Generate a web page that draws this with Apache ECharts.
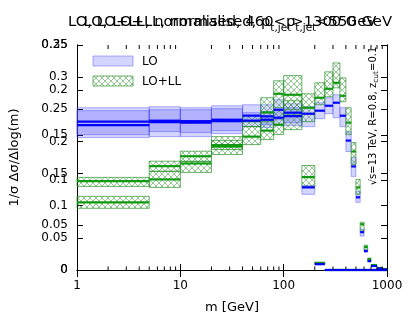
<!DOCTYPE html>
<html>
<head>
<meta charset="utf-8">
<script src="https://cdn.jsdelivr.net/npm/echarts@6/dist/echarts.min.js"></script>
<style>html,body{margin:0;padding:0;background:#fff}#c{width:411px;height:319px}</style>
</head>
<body>
<div id="c"></div>
<script>
// ---- data ----
const binEdges = [1,5,10,20,40,60,80,100,150,200,250,300,350,400,450,500,550,600,650,700,800,900,1000];
const xTickLabels = ['1','10','100','1000'];
const minorTickValues = [2,3,4,5,6,7,8,9,20,30,40,50,60,70,80,90,200,300,400,500,600,700,800,900];
const titleLow = 'LO, LO+LL, normalised, 460<p{s|t,jet}<550 GeV';
const titleHigh = 'LO, LO+LL, normalised, p{s|t,jet}>1300 GeV';
// chart drawn on the 0-0.35 scale
const hiLL    = [0.1053,0.1409,0.1657,0.1920,0.2075,0.2168,0.2261,0.2400,0.2524,0.2679,0.2819,0.2912,0.2710,0.2292,0.1843,0.1285,0.0712,0.0356,0.0170,0.0077,0.0031,0.0015];
const hiLLup  = [0.1146,0.1533,0.1688,0.2013,0.2230,0.2308,0.2493,0.2633,0.2741,0.2912,0.3082,0.3221,0.2989,0.2524,0.1982,0.1409,0.0743,0.0387,0.0186,0.0085,0.0035,0.0018];
const hiLLdn  = [0.0960,0.1285,0.1518,0.1796,0.1951,0.2029,0.2106,0.2184,0.2308,0.2571,0.2695,0.2834,0.2617,0.2106,0.1642,0.1177,0.0604,0.0310,0.0139,0.0070,0.0027,0.0012];
const hiLO    = [0.2253,0.2300,0.2292,0.2315,0.2323,0.2338,0.2369,0.2393,0.2431,0.2478,0.2555,0.2602,0.2400,0.2013,0.1611,0.1131,0.0588,0.0294,0.0139,0.0062,0.0023,0.0008];
const hiLOup  = [0.2478,0.2493,0.2493,0.2509,0.2447,0.2462,0.2493,0.2524,0.2540,0.2602,0.2679,0.2726,0.2524,0.2153,0.1750,0.1223,0.0635,0.0325,0.0155,0.0070,0.0027,0.0010];
const hiLOdn  = [0.2060,0.2075,0.2075,0.2122,0.2230,0.2215,0.2246,0.2246,0.2230,0.2354,0.2431,0.2369,0.2230,0.1843,0.1456,0.1053,0.0527,0.0279,0.0124,0.0054,0.0020,0.0006];
// chart drawn on the 0-0.25 scale
const loLL    = [0.0988,0.1154,0.1264,0.1388,0.1654,0.1751,0.1958,0.1947,0.1032,0.0077,0,0,0,0,0,0,0,0,0,0,0,0];
const loLLup  = [0.1029,0.1209,0.1320,0.1482,0.1715,0.1914,0.2102,0.2160,0.1161,0.0088,0,0,0,0,0,0,0,0,0,0,0,0];
const loLLdn  = [0.0929,0.1098,0.1209,0.1338,0.1593,0.1659,0.1803,0.1781,0.0929,0.0066,0,0,0,0,0,0,0,0,0,0,0,0];
const loLO    = [0.1648,0.1659,0.1654,0.1670,0.1715,0.1707,0.1781,0.1748,0.0918,0.0066,0,0,0,0,0,0,0,0,0,0,0,0];
const loLOup  = [0.1803,0.1814,0.1803,0.1825,0.1836,0.1836,0.1892,0.1847,0.0940,0.0077,0,0,0,0,0,0,0,0,0,0,0,0];
const loLOdn  = [0.1504,0.1538,0.1527,0.1549,0.1648,0.1615,0.1670,0.1637,0.0841,0.0055,0,0,0,0,0,0,0,0,0,0,0,0];

// ---- styles ----
const FONT = 'DejaVu Sans';
const hatch = document.createElement('canvas');
hatch.width = 6; hatch.height = 6;
(function(){
  const g = hatch.getContext('2d');
  g.strokeStyle = 'rgba(40,150,40,0.5)';
  g.lineWidth = 1;
  g.beginPath();
  g.moveTo(0,0); g.lineTo(6,6);
  g.moveTo(6,0); g.lineTo(0,6);
  g.moveTo(-1,5); g.lineTo(1,7);
  g.moveTo(5,-1); g.lineTo(7,1);
  g.stroke();
})();
const hatchFill = {image: hatch, repeat: 'repeat'};
const blueBandStyle = {fill: 'rgba(60,60,255,0.22)', stroke: 'rgba(80,80,255,0.45)', lineWidth: 1};
const greenBandStyle = {fill: hatchFill, stroke: 'rgba(30,140,30,0.65)', lineWidth: 1};

function bands(c, up, dn){
  const out = [];
  for (let i = 0; i < c.length; i++) {
    if (up[i] > dn[i]) out.push([binEdges[i], binEdges[i+1], dn[i], up[i]]);
  }
  return out;
}
function centres(c){
  return c.map((v,i)=>[binEdges[i], binEdges[i+1], v]);
}
function bandRender(style){
  return function(params, api){
    const p0 = api.coord([api.value(0), api.value(3)]);
    const p1 = api.coord([api.value(1), api.value(2)]);
    return {type:'rect', shape:{x:p0[0], y:p0[1], width:p1[0]-p0[0], height:p1[1]-p0[1]}, style: style};
  };
}
function lineRender(color){
  return function(params, api){
    const p0 = api.coord([api.value(0), api.value(2)]);
    const p1 = api.coord([api.value(1), api.value(2)]);
    return {type:'line', shape:{x1:p0[0], y1:p0[1], x2:p1[0], y2:p1[1]}, style:{stroke: color, lineWidth: 2.2}};
  };
}
function bandSeries(data, yi, style, z){
  return {type:'custom', xAxisIndex:0, yAxisIndex:yi, data:data, renderItem: bandRender(style),
          encode:{x:[0,1], y:[2,3]}, z:z, silent:true, clip:false};
}
function lineSeries(data, yi, color, z){
  return {type:'custom', xAxisIndex:0, yAxisIndex:yi, data:data, renderItem: lineRender(color),
          encode:{x:[0,1], y:[2]}, z:z, silent:true, clip:false};
}

const tickSeries = {
  type:'custom', xAxisIndex:0, yAxisIndex:0, silent:true, z:20,
  data: minorTickValues.map(v=>[v,0]), encode:{x:0, y:1},
  renderItem: function(params, api){
    const x = api.coord([api.value(0), 0])[0];
    const cs = params.coordSys;
    const b = cs.y + cs.height, t = cs.y;
    return {type:'group', children:[
      {type:'line', shape:{x1:x, y1:b, x2:x, y2:b-3.5}, style:{stroke:'#000', lineWidth:1}},
      {type:'line', shape:{x1:x, y1:t, x2:x, y2:t+4}, style:{stroke:'#000', lineWidth:1}}
    ]};
  }
};

const yBase = {type:'value', min:0, interval:0.05, splitLine:{show:false},
  axisLine:{show:true, lineStyle:{color:'#000', width:1}},
  axisTick:{show:true, inside:true, length:6, lineStyle:{color:'#000'}},
  axisLabel:{show:true, color:'#000', fontFamily:FONT, fontSize:12, margin:9,
             formatter: v => String(Math.round(v*100)/100)}};

function titleText(text, cx){
  return {type:'text', x:cx, y:22.5, z:50, style:{text:text,
    font:'14.75px '+FONT, fill:'#000', align:'center', verticalAlign:'middle', lineHeight:22,
    rich:{s:{fontSize:10.5, fontFamily:FONT, verticalAlign:'bottom', lineHeight:22}}}};
}

const chart = echarts.init(document.getElementById('c'), null, {renderer:'canvas'});
chart.setOption({
  animation:false,
  backgroundColor:'#fff',
  grid:{left:77, right:24, top:45, bottom:48},
  xAxis:[
    {type:'log', logBase:10, min:1, max:1000, position:'bottom',
     axisLine:{show:true, lineStyle:{color:'#000'}},
     axisTick:{show:true, inside:true, length:6, lineStyle:{color:'#000'}},
     axisLabel:{color:'#000', fontFamily:FONT, fontSize:12, margin:10,
                formatter: v => xTickLabels[Math.round(Math.log10(v))]},
     splitLine:{show:false}, minorTick:{show:false},
     name:'m [GeV]', nameLocation:'middle', nameGap:31,
     nameTextStyle:{color:'#000', fontFamily:FONT, fontSize:13}},
    {type:'log', logBase:10, min:1, max:1000, position:'top',
     axisLine:{show:true, lineStyle:{color:'#000'}},
     axisTick:{show:true, inside:true, length:7, lineStyle:{color:'#000'}},
     axisLabel:{show:false}, splitLine:{show:false}}
  ],
  yAxis:[
    Object.assign({}, yBase, {max:0.35, position:'left',
      name:'1/σ Δσ/Δlog(m)', nameLocation:'middle', nameGap:56,
      nameTextStyle:{color:'#000', fontFamily:FONT, fontSize:13}}),
    Object.assign({}, yBase, {max:0.25, position:'left'}),
    Object.assign({}, yBase, {max:0.35, position:'right', axisLabel:{show:false}}),
    Object.assign({}, yBase, {max:0.25, position:'right', axisLabel:{show:false}})
  ],
  series:[
    bandSeries(bands(hiLO, hiLOup, hiLOdn), 0, blueBandStyle, 2),
    bandSeries(bands(loLO, loLOup, loLOdn), 1, blueBandStyle, 2),
    bandSeries(bands(hiLL, hiLLup, hiLLdn), 0, greenBandStyle, 3),
    bandSeries(bands(loLL, loLLup, loLLdn), 1, greenBandStyle, 3),
    lineSeries(centres(hiLL), 0, '#119911', 4),
    lineSeries(centres(loLL), 1, '#119911', 4),
    lineSeries(centres(hiLO), 0, '#0000ff', 5),
    lineSeries(centres(loLO), 1, '#0000ff', 5),
    tickSeries
  ],
  graphic:[
    titleText(titleLow, 230),
    titleText(titleHigh, 230),
    {type:'rect', shape:{x:93, y:56, width:40, height:10}, style:blueBandStyle, z:50},
    {type:'rect', shape:{x:93, y:76, width:40, height:10}, style:greenBandStyle, z:50},
    {type:'text', x:142, y:61.5, z:50, style:{text:'LO', font:'12px '+FONT, fill:'#000', verticalAlign:'middle'}},
    {type:'text', x:142, y:81.5, z:50, style:{text:'LO+LL', font:'12px '+FONT, fill:'#000', verticalAlign:'middle'}},
    {type:'text', x:373, y:116, rotation:Math.PI/2, z:50, style:{text:'√s=13 TeV, R=0.8, z{s|cut}=0.1',
      font:'10px '+FONT, fill:'#000', align:'center', verticalAlign:'middle', lineHeight:14,
      rich:{s:{fontSize:7.5, fontFamily:FONT, verticalAlign:'bottom', lineHeight:14}}}}
  ]
});
</script>
</body>
</html>
